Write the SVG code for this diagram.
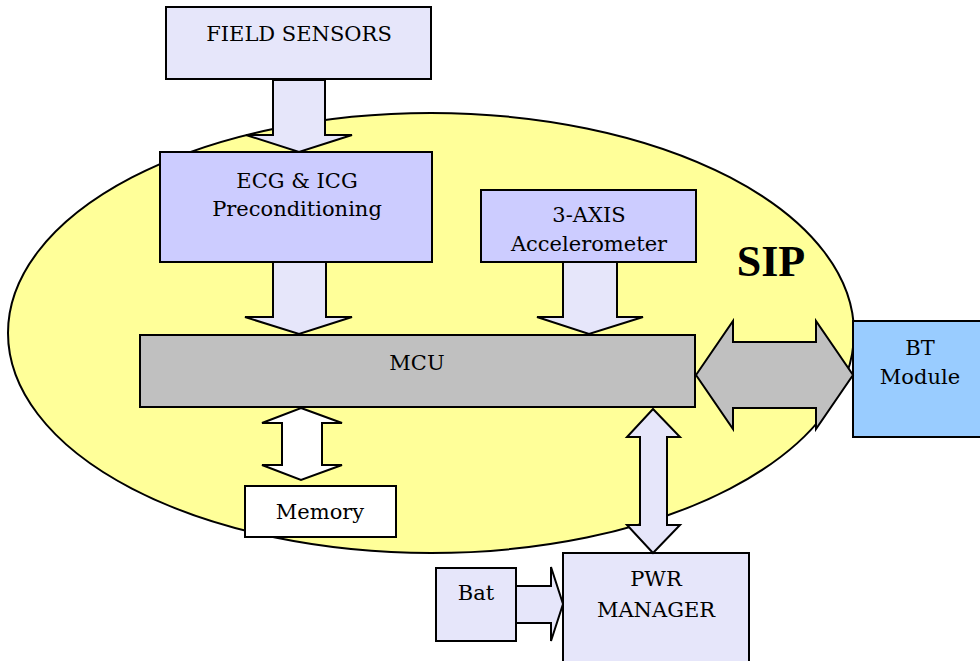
<svg xmlns="http://www.w3.org/2000/svg" width="980" height="661" viewBox="0 0 980 661">
<style>
.b{stroke:#000;stroke-width:2}
.lav{fill:#e6e6fa}
.per{fill:#ccccff}
.gry{fill:#c0c0c0}
.t{font-family:"DejaVu Serif","Liberation Serif",serif;font-size:21px;fill:#000;text-anchor:middle}
.s{font-family:"Liberation Serif","DejaVu Serif",serif;font-size:44px;font-weight:bold;fill:#000;text-anchor:middle}
</style>
<rect width="980" height="661" fill="#fff"/>
<g id="sip">
<ellipse cx="431" cy="333" rx="423" ry="220" fill="#ffff99" class="b"/>
<text class="s" x="771" y="276">SIP</text>
</g>
<g id="field-sensors">
<rect x="166" y="7" width="265" height="72" class="b lav"/>
<text class="t" x="299" y="41">FIELD SENSORS</text>
</g>
<g id="ecg-icg">
<rect x="160" y="152" width="272" height="110" class="b per"/>
<text class="t" x="297" y="188">ECG &amp; ICG</text>
<text class="t" x="297" y="216">Preconditioning</text>
</g>
<g id="accelerometer">
<rect x="481" y="190" width="215" height="72" class="b per"/>
<text class="t" x="589" y="222">3-AXIS</text>
<text class="t" x="589" y="251">Accelerometer</text>
</g>
<g id="mcu">
<rect x="140" y="335" width="555" height="72" class="b gry"/>
<text class="t" x="417" y="370">MCU</text>
</g>
<g id="bt-module">
<rect x="853" y="321" width="130" height="116" fill="#99ccff" class="b"/>
<text class="t" x="920" y="355">BT</text>
<text class="t" x="920" y="384">Module</text>
</g>
<g id="memory">
<rect x="245" y="486" width="151" height="51" fill="#fff" class="b"/>
<text class="t" x="320" y="519">Memory</text>
</g>
<g id="pwr-manager">
<rect x="563" y="553" width="186" height="112" class="b lav"/>
<text class="t" x="656" y="586">PWR</text>
<text class="t" x="656" y="617">MANAGER</text>
</g>
<g id="bat">
<rect x="436" y="568" width="80" height="73" class="b lav"/>
<text class="t" x="476" y="600">Bat</text>
</g>
<g id="connectors" stroke="#000" stroke-width="2" stroke-linejoin="miter">
<polygon class="lav" points="273,80 325,80 325,135 352,135 299,152 246,135 273,135"/>
<polygon class="lav" points="273,262 326,262 326,317 352,317 299,334 245,317 273,317"/>
<polygon class="lav" points="563,262 617,262 617,317 643,317 589,334 537,317 563,317"/>
<polygon class="gry" points="696,375 733,321 733,342 816,342 816,321 853,375 816,429 816,408 733,408 733,429"/>
<polygon fill="#fff" points="301,408 342,423 322,423 322,465 342,465 301,480 262,465 282,465 282,423 262,423"/>
<polygon class="lav" points="653,409 680,437 667,437 667,525 680,525 653,553 627,525 640,525 640,437 627,437"/>
<polygon class="lav" points="516,586 551,586 551,567 563,604 551,641 551,623 516,623"/>
</g>
</svg>
